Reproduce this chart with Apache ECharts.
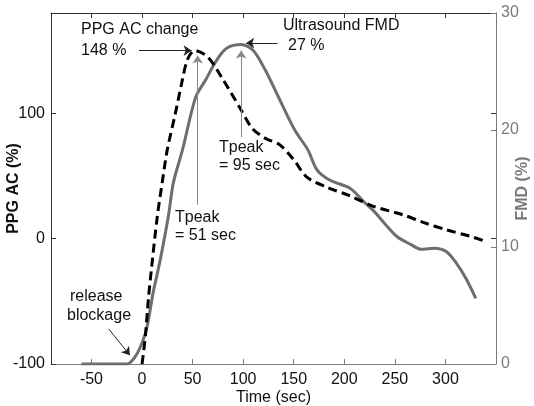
<!DOCTYPE html>
<html lang="en">
<head>
<meta charset="UTF-8">
<script src="https://cdn.jsdelivr.net/npm/echarts@6/dist/echarts.min.js"></script>
<title>PPG AC change vs Ultrasound FMD</title>
<style>
    html, body { margin: 0; padding: 0; background: #fff; }
    #chart { width: 534px; height: 406px; }
</style>
</head>
<body>
<div id="chart"></div>
<script>
// x ticks and axis ticks
const timeTicks = [-50, 0, 50, 100, 150, 200, 250, 300];
const ppgTicks = [-100, 0, 100];
const fmdTicks = [0, 10, 20, 30];

// PPG AC change (%) - dashed black, left axis
const ppgTime = [0, 3.3, 6.2, 9.2, 15, 20, 25, 33, 40, 45, 52, 65, 80, 97, 109, 122, 136, 150, 163, 183, 206, 228, 258, 278, 301, 324, 339];
const ppgValue = [-100, -78, -49, -25, 17, 45, 71, 100, 127, 143, 150, 145, 127, 104, 88, 80, 75, 63, 49, 41, 34, 26, 19, 13, 7, 2, -2];

// Ultrasound FMD (%) - solid grey, right axis
const fmdTime = [-60, -15, -7, 0, 5, 11, 18, 26, 31, 40, 53, 63, 74, 84, 98, 110, 122, 135, 151, 164, 173, 186, 206, 220, 230, 239, 252, 266, 276, 289, 301, 311, 321, 330];
const fmdValue = [0, 0, 0.6, 1.8, 3.2, 6.1, 8.9, 12.6, 15.5, 18.3, 22.8, 24.3, 26.0, 27.0, 27.3, 26.8, 25.1, 22.8, 20.0, 18.3, 16.6, 15.7, 15.0, 13.8, 13.0, 12.1, 10.9, 10.2, 9.8, 9.9, 9.6, 8.6, 7.2, 5.6];

const grey = '#7a7a7a';
const fontFam = '"Liberation Sans", Arial, sans-serif';

const chart = echarts.init(document.getElementById('chart'));

function arrow(from, to, color) {
    return [
        { coord: from, lineStyle: { color: color, width: 1, type: 'solid' } },
        { coord: to }
    ];
}

function note(text, left, top, size) {
    return {
        type: 'text', left: left, top: top,
        style: { text: text, fill: '#111', font: (size || 16) + 'px ' + fontFam }
    };
}

const option = {
    animation: false,
    grid: { left: 51, right: 38, top: 13, bottom: 42, containLabel: false, outerBoundsMode: 'none' },
    xAxis: [
        {
            type: 'value', min: -90, max: 350, position: 'bottom',
            name: 'Time (sec)', nameLocation: 'middle', nameGap: 26, nameMoveOverlap: false,
            nameTextStyle: { color: '#111', fontSize: 16, fontFamily: fontFam },
            axisLine: { onZero: false, lineStyle: { color: grey, width: 1 } },
            axisTick: { inside: true, length: 5, customValues: timeTicks, lineStyle: { color: grey } },
            axisLabel: { customValues: timeTicks, color: '#111', fontSize: 16, fontFamily: fontFam, margin: 8 },
            splitLine: { show: false }
        },
        {
            type: 'value', min: -90, max: 350, position: 'top',
            axisLine: { onZero: false, lineStyle: { color: '#333', width: 1 } },
            axisTick: { inside: true, length: 5, customValues: timeTicks, lineStyle: { color: '#333' } },
            axisLabel: { show: false },
            splitLine: { show: false }
        }
    ],
    yAxis: [
        {
            type: 'value', min: -100, max: 180, position: 'left',
            name: 'PPG AC (%)', nameLocation: 'middle', nameGap: 29, nameMoveOverlap: false,
            nameTextStyle: { color: '#111', fontSize: 16, fontWeight: 'bold', fontFamily: fontFam },
            axisLine: { show: true, onZero: false, lineStyle: { color: '#333', width: 1 } },
            axisTick: { show: true, inside: true, length: 5, customValues: ppgTicks, lineStyle: { color: '#333' } },
            axisLabel: { customValues: ppgTicks, color: '#111', fontSize: 16, fontFamily: fontFam, margin: 6 },
            splitLine: { show: false }
        },
        {
            type: 'value', min: 0, max: 30, position: 'right',
            name: 'FMD (%)', nameLocation: 'middle', nameGap: 19, nameMoveOverlap: false,
            nameTextStyle: { color: grey, fontSize: 16, fontWeight: 'bold', fontFamily: fontFam },
            axisLine: { show: true, onZero: false, lineStyle: { color: grey, width: 1 } },
            axisTick: { show: true, inside: true, length: 5, customValues: fmdTicks, lineStyle: { color: grey } },
            axisLabel: { customValues: fmdTicks, color: grey, fontSize: 16, fontFamily: fontFam, margin: 5 },
            splitLine: { show: false }
        },
        {
            type: 'value', min: -100, max: 180, position: 'right', offset: 0,
            axisLine: { show: false, onZero: false },
            axisTick: { show: true, inside: true, length: 5, customValues: [0, 100], lineStyle: { color: '#333' } },
            axisLabel: { show: false },
            splitLine: { show: false }
        }
    ],
    series: [
        {
            name: 'PPG AC change', type: 'line', xAxisIndex: 0, yAxisIndex: 0,
            data: ppgTime.map((t, i) => [t, ppgValue[i]]),
            smooth: 0.3, showSymbol: false, symbol: 'none', z: 3,
            lineStyle: { color: '#000', width: 3, type: [9, 5] },
            markLine: {
                silent: true, symbol: ['none', 'arrow'], symbolSize: 8,
                label: { show: false },
                data: [
                    arrow([-3, 150], [49, 150], '#222'),
                    arrow([55, 27], [55, 146], '#888'),
                    arrow([98, 81], [98, 150], '#888'),
                    arrow([134, 156], [103, 156], '#222'),
                    arrow([-33, -72], [-12, -93], '#222')
                ]
            }
        },
        {
            name: 'Ultrasound FMD', type: 'line', xAxisIndex: 0, yAxisIndex: 1,
            data: fmdTime.map((t, i) => [t, fmdValue[i]]),
            smooth: 0.3, showSymbol: false, symbol: 'none', z: 2,
            lineStyle: { color: '#6e6e6e', width: 3 }
        }
    ],
    graphic: [
        note('PPG AC change', 81, 22),
        note('148 %', 81, 43),
        note('Ultrasound FMD', 283, 18),
        note('27 %', 288, 38),
        note('Tpeak', 219, 140),
        note('= 95 sec', 219, 158),
        note('Tpeak', 175, 210),
        note('= 51 sec', 175, 228),
        note('release', 70, 289),
        note('blockage', 67, 308)
    ]
};

chart.setOption(option);
</script>
</body>
</html>
